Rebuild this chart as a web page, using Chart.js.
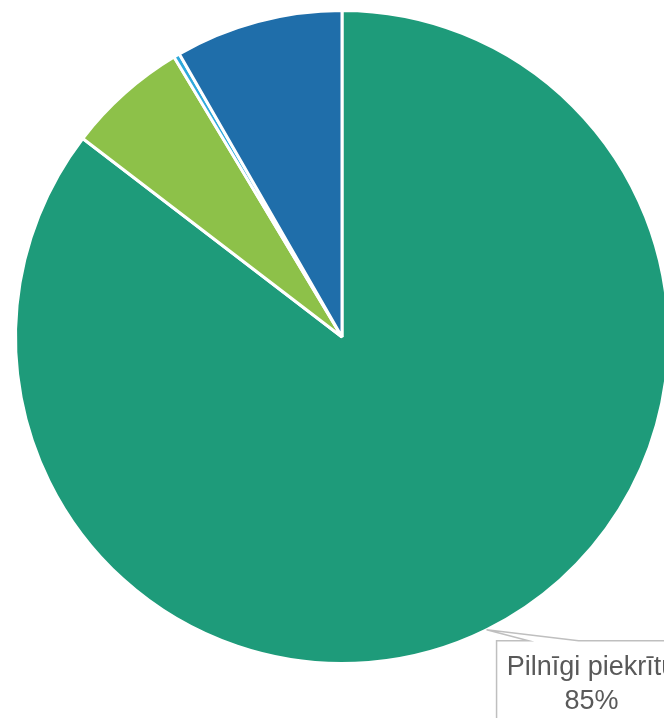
<!DOCTYPE html>
<html>
<head>
<meta charset="utf-8">
<script src="https://cdn.jsdelivr.net/npm/chart.js@4/dist/chart.umd.min.js"></script>
<style>
	html, body { margin: 0; padding: 0; background: #fff; overflow: hidden; width: 664px; height: 718px; }
	#wrap { position: absolute; left: 0; top: 0; }
</style>
</head>
<body>
<div id="wrap"><canvas id="answers" width="720" height="718"></canvas></div>
<script>
// atbilžu sadalījums (%)
const labels = ['Pilnīgi piekrītu', 'Daļēji piekrītu', 'Nepiekrītu', 'Grūti pateikt'];
const values = [85.4, 6.0, 0.3, 8.3];
const colors = ['#1e9b7a', '#8dc149', '#2ea9db', '#1f6eaa'];
const shownLabels = [0]; // tikai pirmajai daļai ir uzraksts

// uzraksts ar rāmīti un "bultu" uz daļu
const calloutPlugin = {
	id: 'callout',
	afterDatasetsDraw: function(chart){
		const ctx = chart.ctx;
		const meta = chart.getDatasetMeta(0);
		const total = values.reduce(function(a, b){ return a + b; }, 0);
		shownLabels.forEach(function(i){
			const arc = meta.data[i];
			const mid = (arc.startAngle + arc.endAngle) / 2;
			const ax = arc.x + Math.cos(mid) * arc.outerRadius;
			const ay = arc.y + Math.sin(mid) * arc.outerRadius;
			const left = ax + 10;
			const top = ay + 11;
			const w = 190;
			ctx.save();
			ctx.beginPath();
			ctx.moveTo(left, top + 200);
			ctx.lineTo(left, top);
			ctx.lineTo(left + 32, top);
			ctx.lineTo(ax, ay);
			ctx.lineTo(left + 82, top);
			ctx.lineTo(left + w + 60, top);
			ctx.fillStyle = '#fff';
			ctx.fill();
			ctx.strokeStyle = '#bfbfbf';
			ctx.lineWidth = 1.5;
			ctx.stroke();
			ctx.fillStyle = '#595959';
			ctx.font = '27px "Liberation Sans", Arial, sans-serif';
			ctx.textAlign = 'center';
			ctx.textBaseline = 'alphabetic';
			const cx = left + w / 2;
			ctx.fillText(labels[i], cx, top + 34);
			ctx.fillText(Math.round(values[i] / total * 100) + '%', cx, top + 68);
			ctx.restore();
		});
	}
};

new Chart(document.getElementById('answers'), {
	type: 'pie',
	data: {
		labels: labels,
		datasets: [{
			data: values,
			backgroundColor: colors,
			borderColor: '#ffffff',
			borderWidth: 3
		}]
	},
	options: {
		responsive: false,
		animation: false,
		devicePixelRatio: 1,
		layout: { padding: { left: 14, top: 9, right: 50, bottom: 53 } },
		plugins: {
			legend: { display: false },
			tooltip: { enabled: false }
		}
	},
	plugins: [calloutPlugin]
});
</script>
</body>
</html>
